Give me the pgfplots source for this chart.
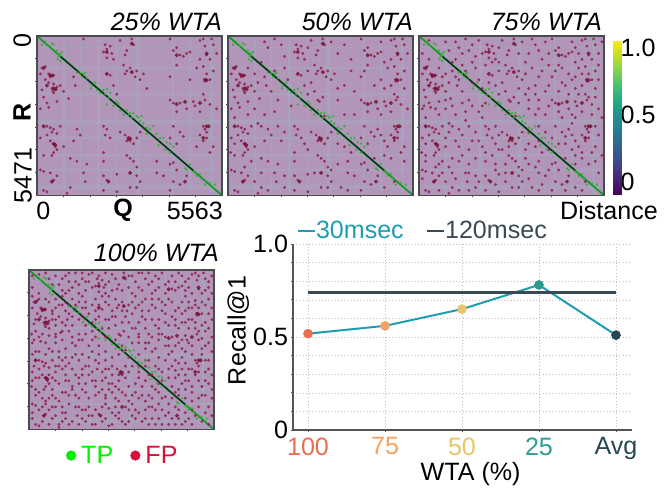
\documentclass[border=0pt]{standalone}
\usepackage{pgfplots}
\pgfplotsset{compat=1.18}
\usepackage{fontspec}
\setmainfont{Liberation Sans}
\definecolor{bgc}{HTML}{B296B9}
\definecolor{bandc}{HTML}{90C4CC}
\definecolor{fpc}{HTML}{8F1A48}
\definecolor{tpc}{HTML}{35B035}
\definecolor{diag}{HTML}{129A22}
\definecolor{diagd}{HTML}{07351C}
\definecolor{frame}{HTML}{4A4A50}
\definecolor{c1}{HTML}{E76F51}
\definecolor{c2}{HTML}{F4A261}
\definecolor{c3}{HTML}{E9C46A}
\definecolor{c4}{HTML}{2A9D8F}
\definecolor{c5}{HTML}{264653}
\definecolor{teal30}{HTML}{1F9DB0}
\definecolor{slate}{HTML}{3A4A55}
\definecolor{axc}{HTML}{555555}
\definecolor{tpl}{HTML}{00F000}
\definecolor{fpl}{HTML}{D8103C}
\newcommand{\bigf}{\fontsize{18.8}{20}\selectfont}
\pgfplotsset{
  heat/.style={
    scale only axis, width=138.75pt, height=119.5pt, anchor=north west,
    xmin=0, xmax=55.63, ymin=0, ymax=54.71, y dir=reverse,
    xtick={7.95,15.89,23.84,31.79,39.74,47.68}, ytick={7.82,15.63,23.45,31.27,39.08,46.89},
    xticklabels={}, yticklabels={},
    tick align=outside, major tick length=1.6pt,
    tick style={frame,line width=.5pt},
    xtick pos=bottom, ytick pos=left,
    axis line style={frame,line width=.9pt},
    axis background/.style={fill=bgc},
    axis on top,
  },
  fp/.style={only marks, mark=*, mark size=.9pt, color=fpc, opacity=.72, mark options={draw=none,fill=fpc}, forget plot},
  fpk/.style={only marks, mark=*, mark size=1.3pt, color=fpc!85!black, opacity=.85, mark options={draw=none,fill=fpc!85!black}, forget plot},
  tp/.style={only marks, mark=*, mark size=.7pt, color=tpc, opacity=.8, mark options={draw=none,fill=tpc}, forget plot},
  band/.style={bandc, opacity=.2, forget plot},
  dot/.style={only marks, mark=*, mark size=3.4pt, forget plot},
}
\newcommand{\bands}{%
\addplot[band,line width=3pt] coordinates {(30.5,0)(30.5,54.71)};
\addplot[band,line width=2pt] coordinates {(18.5,0)(18.5,54.71)};
\addplot[band,line width=2.5pt] coordinates {(52.5,0)(52.5,54.71)};
\addplot[band,line width=1.5pt] coordinates {(8,0)(8,54.71)};
\addplot[band,line width=1.5pt] coordinates {(41,0)(41,54.71)};
\addplot[band,line width=1pt] coordinates {(24,0)(24,54.71)};
\addplot[band,line width=1pt] coordinates {(13,0)(13,54.71)};
\addplot[band,line width=1pt] coordinates {(46,0)(46,54.71)};
\addplot[band,line width=2.5pt] coordinates {(0,29.5)(55.63,29.5)};
\addplot[band,line width=3pt] coordinates {(0,52)(55.63,52)};
\addplot[band,line width=1.5pt] coordinates {(0,11)(55.63,11)};
\addplot[band,line width=1.2pt] coordinates {(0,20)(55.63,20)};
\addplot[band,line width=1.2pt] coordinates {(0,35)(55.63,35)};
\addplot[band,line width=1.5pt] coordinates {(0,41)(55.63,41)};
\addplot[band,line width=1pt] coordinates {(0,4)(55.63,4)};
\addplot[band,line width=1pt] coordinates {(0,46)(55.63,46)};
}
\newcommand{\fpK}{\addplot[fpk] coordinates {
(5,18)(5.6,18.3)(5,37)(5.5,37.4)(27.5,35)(28,35.2)(51,31)(51.6,31)(28.5,2.6)(50.5,15)(51,15.2)(21,5.5)(44.5,22.6)(2,11)(4,13.5)(4.6,13.6)(42,6.6)(50,35)(28.5,12.4)(4.5,50)(44.5,50)(21.5,50)(28,47)(3,17)(21,13)(2,31)(49,23)(42,23.4)(51,6)
};}
\newcommand{\fpA}{\addplot[fp] coordinates {
(14,1)(20.5,3)(20,5.5)(21,4.5)(22,3.5)(22.5,6)(21,7.5)(23,8)(25,1.5)(28.5,1)(27,5)(26.5,6.5)(29,3)(40,1)(41,5)(42,4)(43,6.5)(44,7)(45,6)(46,5.5)(49,1.5)(50,1)(50.5,3.5)(53,3)(52.5,1)(54,6)(51,6.5)(49,8)(52,8)
(1.5,11)(2.5,10.5)(1,13)(3.5,13)(4,14)(5,13.5)(2.5,15)(3.5,16)(5,16.5)(4.5,18)(1.5,18.5)(4.8,18.8)(5,19.5)(5.2,18)(6,17.5)(7,17)(2,21)(3,23)(3.5,24.5)(6,22.5)(1,25)(8,19)(9.5,21.5)(11,14)(11.5,17)
(26,10)(26.5,13)(27,12)(28,11)(29.5,14)(30,12)(31,15)(32,13)(22,13.5)(23,17)(33,18)(24,20)
(42,10)(48,11)(50,10.5)(51,13)(52,15)(50.5,15.5)(53,12)(46,15)(40,14)
(40,22)(41,23)(43,23)(45,25)(47,22.5)(47.5,24)(50,20)(50.5,22)(52,23.5)(49,26)(54,25)(42,26)
(3,31)(4,31.5)(5,32)(4.5,33)(6,33.5)(7,31)(1,35)(3,34)(12,32)(13,34)(11,36)
(20,31)(21,32)(20.5,34)(22,35)(25,33)(26.5,34)(27,36)(27.5,35.5)(28,36)(29,37)(30,35)(31,33)
(41,31)(43,33)(44,34.5)(50,31)(50.5,32)(51,33)(49,34)(51,35)(50,36)(40,35)(42,37)(48,38)(53,38)(52,40)
(4,36)(5,37)(5.5,38)(6,39)(5,40)(4.5,41)(2,41)(8,38)(10,42)(12,43)(1,46)(15,44)(20,40)(27,41)(28,42)(29,43)(20,43)(30,45)
(40,44)(36,43)(41,43.5)(42,46)(36,47)(38,48)
(2,46.5)(4,47)(4.5,50)(5,49.5)(6,48)(14,47)(14.5,50)(21,49.5)(20,48)(24,47.5)(30,48)(31,50)(30,52)(41,50)(43,51)(45,48)(2,53)(3,53.5)(20,53)(24,53.5)(28,52)(40,53)(9,54)(10,52)
};}
\newcommand{\fpB}{\addplot[fp] coordinates {
(11,2)(12,4)(16,3)(17,7)(24,4)(31,2)(33,6)(35,3)(37,8)(46,2)(47,9)(6,11)(8,13)(10,9)(9,16)(14,12)(13,19)(17,11)(18,15)(15,22)(19,24)(24,12)(25,16)(26,19)(27,22)(27.5,22.5)(28.5,21)(33,22)(35,17)(37,12)(38,19)(41,12)(44,17)(47,18)(49,17)(53,18)(51,21)(46,27)(38,27)(35,27)(29,27.5)(14,26)(11,27)(8,25)(6,27)(2,28)
(9,30)(10,31)(15,31)(17,33)(16,36)(23,37)(24,39)(33,37)(35,38)(37,40)(45,32)(46,34)(47,36)(47,41)(49,42)(53,43)(44,42)(33,44)(31,46)(26,47)(17,48)(10,47)(8,50)(12,53)(17,52)(34,52)(36,53)(47,52)(50,50)(5,45)(7,43)(2,37)(0.8,40)
};}
\newcommand{\fpC}{\addplot[fp] coordinates {
(3,1.5)(8,2)(9,5)(13,6)(15,5)(18,1.5)(19,6)(30,6)(32,9)(34,1)(36,5)(38,2)(39,6)(47,4)(48,6)(55,2)(54,10)(3,8)(1,6)(11,8)(13,10)(16,9)(20,10)(22,9)(24,9)(34,11)(36,14)(39,10)(43,11)(45,13)(47,14)(43,16)(49,13)(54,15)(7,14)(10,12)(12,15)(16,16)(19,18)(21,16)(30,18)(32,20)(35,20)(36,22)(39,17)(42,19)(45,20)(48,20)(53,21)
(1.5,24)(5,25)(8,22)(10,24)(13,23)(16,24)(18,26)(20,23)(30,23)(33,25)(36,25)(39,24)(43,28)(47,28)(52,27)(55,28)(2,31)(9,33)(14,29)(19,28)(23,31)(24,34)(33,33)(36,31)(38,33)(46,30)(53,31)(54,34)(18,36)(8,35)(12,38)(15,39)(19,38)(22,41)(25,39)(27,38)(32,39)(36,36)(39,39)(44,37)(46,39)(49,40)(55,41)
(2,43)(6,44)(9,45)(13,41)(17,42)(23,44)(26,44)(32,42)(35,45)(39,46)(47,44)(51,44)(54,47)(1,49)(7,47)(11,49)(15,47)(18,50)(23,51)(26,50)(33,49)(37,51)(44,53)(49,53)(6,53)(15,53)(23,46)
};}
\newcommand{\fpD}{\addplot[fp] coordinates {
(1,2)(5,1)(6,3)(7,5)(10,3)(10,7)(12,1)(12,7)(14,4)(15,8)(16,1)(17,4)(18,4)(19,1)(21,2)(23,1)(23,5)(25,7)(26,3)(28,7)(30,2)(31,8)(32,4)(33,1)(34,7)(36,1)(37,4)(38,7)(39,3)(41,8)(43,2)(44,4)(45,1)(47,7)(48,3)(51,2)(53,7)(54,4)(55,8)
(1,9)(3,10)(5,10)(8,10)(9,12)(11,11)(12,12)(15,11)(16,13)(17,13)(19,12)(20,14)(21,12)(23,11)(25,14)(28,14)(31,11)(33,12)(34,14)(35,10)(37,10)(38,13)(40,11)(41,15)(44,14)(46,11)(48,13)(50,12)(52,11)(55,13)
(2,17)(7,15)(8,17)(10,18)(11,19)(13,16)(15,17)(17,19)(20,17)(22,20)(24,17)(26,16)(28,18)(29,16)(31,20)(34,16)(37,17)(39,20)(41,18)(44,19)(46,18)(48,17)(50,18)(52,19)(54,20)(55,17)
(0.8,22)(4,22)(6,20)(8,23)(10,21)(12,21)(13,25)(15,24)(17,22)(19,21)(21,26)(23,23)(26,24)(28,26)(31,25)(33,23)(35,25)(37,23)(39,22)(41,26)(44,26)(46,24)(48,25)(51,24)(53,26)(55,23)
(1,29)(3,28)(5,29)(7,28)(9,28)(11,30)(13,30)(16,29)(18,30)(21,29)(23,28)(25,30)(27,29)(30,30)(33,29)(35,31)(37,28)(39,30)(42,29)(44,31)(47,32)(49,29)(52,29)(54,31)
(1.5,33)(6,36)(8,33)(10,34)(11,33)(14,36)(16,34)(18,33)(19,35)(23,34)(25,36)(29,33)(33,35)(35,33)(37,36)(39,34)(42,34)(45,36)(48,34)(53,35)(55,36)
(1,38)(3,37)(7,37)(9,39)(11,38)(13,40)(15,37)(17,39)(20,38)(22,38)(24,41)(26,40)(30,40)(34,40)(38,41)(40,38)(43,40)(45,41)(47,38)(51,38)(54,39)
(3,42)(4,44)(7,41)(8,44)(11,42)(14,43)(16,41)(18,44)(21,42)(23,43)(25,42)(27,45)(31,43)(34,43)(37,44)(39,42)(43,44)(45,43)(49,45)(52,43)(55,44)
(3,48)(5,46)(8,47)(10,49)(12,46)(16,48)(18,47)(19,50)(22,47)(25,49)(27,49)(29,47)(32,48)(35,48)(37,47)(40,48)(42,49)(44,47)(47,49)(49,48)(51,47)(53,49)(55,50)
(1,51)(4,52)(7,51)(9,53)(11,51)(13,52)(16,51)(19,53)(22,52)(25,53)(27,51)(29,53)(32,51)(35,51)(38,53)(39,51)(42,53)(45,51)(46,53)(48,51)(52,52)(54,53)
};}
\newcommand{\tpall}{%
\addplot[diag,line width=1.3pt,forget plot] coordinates {(0,0)(55.63,54.71)};
\addplot[diagd,line width=1.1pt,forget plot] coordinates {(7,7)(47,46.2)};
\addplot[tp] coordinates {
(1.5,3)(2.5,2)(3.5,3.3)(4.5,2.5)(5,3)(6,5)(6.8,6)(6.5,7)(7,8.5)(6.2,8)(7.5,5.5)(7,6.6)(12,12.5)(13,12.8)(14,13)(14.5,12.7)(13.5,14)(15,14.5)(16.5,17)(17.5,16)(16.2,18)(18,18.5)(19,19.5)(20,18.5)(20.5,20)(21,18.2)(21.5,21.3)(22,19.5)(21,23.5)(23,24)(24,22.5)(24.5,23.3)(25,25.5)(26,27)(27,25.5)(27.5,27)(28,26.5)(29,26.5)(28.5,28)(30,27.5)(30.5,28)(31,29.3)(31.5,27.5)(32,30)(33,31.5)(34,32)(35,31)(33,33.5)(36,33.5)(37,35)(38,35)(39,36.5)(40,37)(36.5,37.5)(38.5,39)(40,40)(41,38)(44.5,45.5)(45,46)(46,44)(47,46.5)(47.5,47)(48,48)(49,47.5)(49.5,49)(50.5,51)(52,50.5)(53.5,51)
};}
\begin{document}
\begin{tikzpicture}[x=.75pt,y=.75pt]
\useasboundingbox (0,0) rectangle (668,-487);
% heat maps
\begin{axis}[heat, at={(27.75pt,-27pt)}]
\bands \fpA \fpK \tpall
\end{axis}
\begin{axis}[heat, at={(171pt,-27pt)}]
\bands \fpA \fpB \fpK \tpall
\end{axis}
\begin{axis}[heat, at={(314.25pt,-27pt)}]
\bands \fpA \fpB \fpC \fpK \tpall
\end{axis}
\begin{axis}[heat, at={(21.75pt,-202.5pt)},
  legend style={at={(0.2,-0.094)},anchor=north west,draw=none,fill=none,legend columns=2,font=\bigf,
    /tikz/every even column/.append style={column sep=12pt},
    /tikz/every odd column/.append style={column sep=3pt}, inner sep=0pt, nodes={inner sep=1pt}},
]
\bands \fpA \fpB \fpC \fpD \fpK \tpall
\addlegendimage{only marks, mark=*, mark size=3.6pt, color=tpl, mark options={fill=tpl,draw=none}}
\addlegendentry{\textcolor{tpl}{TP}}
\addlegendimage{only marks, mark=*, mark size=3.6pt, color=fpl, mark options={fill=fpl,draw=none}}
\addlegendentry{\textcolor{fpl}{FP}}
\end{axis}
% colour bar
\begin{axis}[scale only axis, width=6pt, height=114.75pt, anchor=north west, at={(459.75pt,-30.75pt)},
  xmin=0,xmax=1,ymin=-0.09,ymax=1.05,
  xtick=\empty, ytick={0,0.5,1}, yticklabels={0,0.5,1.0},
  ytick pos=right, yticklabel pos=right, tick align=inside, major tick length=1.5pt,
  tick style={axc,line width=.4pt},
  yticklabel style={font=\bigf, inner sep=1pt, xshift=-1.5pt},
  axis line style={draw=none},
  colormap/viridis, point meta min=-0.09, point meta max=1.05]
\addplot[surf, shader=interp, point meta=y, mesh/rows=2, mesh/cols=2, forget plot] coordinates {(0,-0.09)(1,-0.09)(0,1.05)(1,1.05)};
\end{axis}
% line chart
\begin{axis}[scale only axis, width=254.25pt, height=139.5pt, anchor=north west, at={(219.75pt,-183pt)},
  xmin=-0.195, xmax=4.208, ymin=0, ymax=1,
  xtick={0,1,2,3,4},
  xticklabels={\textcolor{c1}{100},\textcolor{c2}{75},\textcolor{c3}{50},\textcolor{c4}{25},\textcolor{c5}{Avg}},
  ytick={0,0.1,0.2,0.3,0.4,0.5,0.6,0.7,0.8,0.9,1},
  yticklabels={0,,,,,0.5,,,,,1.0},
  grid=major, grid style={dotted,gray!50,line width=.4pt},
  axis lines=left, axis line style={axc,line width=.8pt,-},
  tick align=outside, major tick length=1.5pt, tick style={axc,line width=.5pt},
  ticklabel style={font=\bigf},
  xticklabel style={inner sep=0pt,yshift=-4pt},
  yticklabel style={inner sep=0pt,xshift=-2pt},
  xlabel={WTA (\%)}, ylabel={Recall@1},
  label style={font=\bigf},
  xlabel style={at={(axis description cs:0.524,0)},anchor=center,yshift=-33pt},
  ylabel style={at={(axis description cs:0,0.535)},anchor=center,yshift=41pt},
  legend style={at={(0.012,1.015)},anchor=south west,draw=none,fill=none,legend columns=2,font=\bigf,
    inner sep=0pt, /tikz/every even column/.append style={column sep=17pt},
    nodes={inner sep=0pt}},
  legend image code/.code={\draw[#1,line width=1.5pt] (0pt,0pt) -- (12.5pt,0pt);},
  clip=false]
\addplot[teal30,line width=1.5pt] coordinates {(0,0.518)(1,0.56)(2,0.65)(3,0.78)(4,0.51)};
\addlegendentry{\textcolor{teal30}{30msec}}
\addplot[slate,line width=1.7pt] coordinates {(0,0.74)(4,0.74)};
\addlegendentry{\textcolor{slate}{120msec}}
\addplot[dot,c1] coordinates {(0,0.518)};
\addplot[dot,c2] coordinates {(1,0.56)};
\addplot[dot,c3] coordinates {(2,0.65)};
\addplot[dot,c4] coordinates {(3,0.78)};
\addplot[dot,c5] coordinates {(4,0.51)};
\end{axis}
% text
\node[font=\bigf\itshape,anchor=east,inner sep=0pt] at (222,-22) {25\% WTA};
\node[font=\bigf\itshape,anchor=east,inner sep=0pt] at (413,-22) {50\% WTA};
\node[font=\bigf\itshape,anchor=east,inner sep=0pt] at (602,-22) {75\% WTA};
\node[font=\bigf\itshape,anchor=east,inner sep=0pt] at (219,-253) {100\% WTA};
\node[font=\bigf,rotate=90,anchor=north east,inner sep=0pt] at (13,-33) {0};
\node[font=\bigf\bfseries,rotate=90,anchor=center,inner sep=0pt] at (22,-112) {R};
\node[font=\bigf,rotate=90,anchor=west,inner sep=0pt] at (23,-204) {5471};
\node[font=\bigf,anchor=west,inner sep=0pt] at (36,-211) {0};
\node[font=\bigf\bfseries,anchor=center,inner sep=0pt] at (123,-210) {Q};
\node[font=\bigf,anchor=east,inner sep=0pt] at (223,-211) {5563};
\node[font=\bigf,anchor=east,inner sep=0pt] at (658,-211) {Distance};
\end{tikzpicture}
\end{document}
